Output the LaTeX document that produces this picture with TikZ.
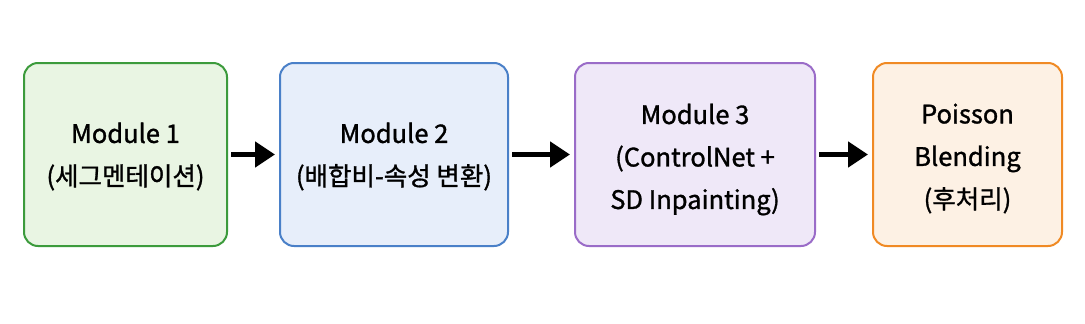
\documentclass[tikz,border=0pt]{standalone}
\usepackage{fontspec}
\setmainfont{Noto Sans CJK KR}[FakeBold=1.2]
\usetikzlibrary{arrows.meta}
\definecolor{gline}{HTML}{3C9B3C}\definecolor{gfill}{HTML}{E9F5E3}
\definecolor{bline}{HTML}{4A80C8}\definecolor{bfill}{HTML}{E7EEFA}
\definecolor{pline}{HTML}{9A6CC8}\definecolor{pfill}{HTML}{EFE8F8}
\definecolor{oline}{HTML}{F08A24}\definecolor{ofill}{HTML}{FDF1E4}
\begin{document}
\begin{tikzpicture}[x=1pt,y=-1pt,
  modbox/.style={draw, line width=2pt, rounded corners=14pt, minimum height=183pt, inner sep=0pt},
  modtext/.style={align=center, font=\fontsize{25.5}{42.5}\selectfont, inner sep=0pt},
  flow/.style={line width=5pt, -{Triangle[length=20pt,width=25pt]}, shorten <=3pt, shorten >=4pt}]
\useasboundingbox (0,0) rectangle (1085,324);
\fill[white] (0,0) rectangle (1085,324);
\node[modbox, draw=gline, fill=gfill, minimum width=203pt] (m1) at (125.5,154.5) {};
\node[modbox, draw=bline, fill=bfill, minimum width=228pt] (m2) at (394,154.5) {};
\node[modbox, draw=pline, fill=pfill, minimum width=240pt] (m3) at (695,154.5) {};
\node[modbox, draw=oline, fill=ofill, minimum width=189pt] (m4) at (967.5,154.5) {};
\node[modtext] (t1) at ([yshift=-2pt]m1.center) {Module 1\\(세그멘테이션)};
\node[modtext] (t2) at ([yshift=-2pt]m2.center) {Module 2\\(배합비-속성 변환)};
\node[modtext] (t3) at ([yshift=-5pt]m3.center) {Module 3\\(ControlNet +\\SD Inpainting)};
\node[modtext] (t4) at ([yshift=-4pt]m4.center) {Poisson\\Blending\\(후처리)};
\draw[flow] (m1) -- (m2);
\draw[flow] (m2) -- (m3);
\draw[flow] (m3) -- (m4);
\end{tikzpicture}
\end{document}
